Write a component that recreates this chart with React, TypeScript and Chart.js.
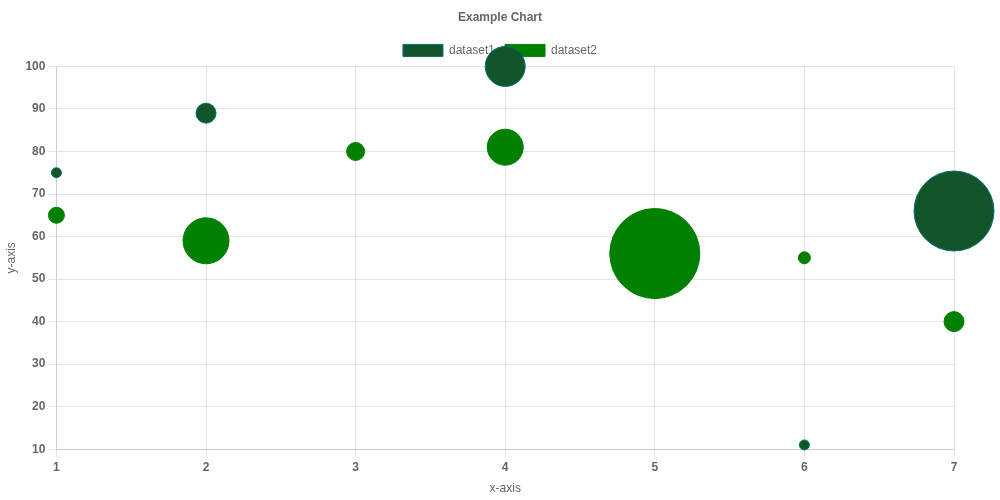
import React, { useEffect, useRef } from "react";
import { Chart, registerables } from "chart.js";

Chart.register(...registerables);

const title = "Example Chart";
const xLabel = "x-axis";
const yLabel = "y-axis";

const ds1X = [1, 2, 4, 6, 7];
const ds1Y = [75, 89, 100, 11, 66];
const ds1R = [5, 10, 20, 5, 40];

const ds2X = [1, 2, 3, 4, 5, 6, 7];
const ds2Y = [65, 59, 80, 81, 56, 55, 40];
const ds2R = [8, 23, 9, 18, 45, 6, 10];

export default function App() {
  const ref = useRef<HTMLCanvasElement | null>(null);
  useEffect(() => {
    if (!ref.current) return;
    Chart.defaults.font.family = "'Liberation Sans', Helvetica, Arial, sans-serif";
    Chart.defaults.color = "#666";
    const chart = new Chart(ref.current, {
      type: "bubble",
      data: {
        datasets: [
          {
            label: "dataset1",
            data: ds1X.map((x, i) => ({ x, y: ds1Y[i], r: ds1R[i] })),
            backgroundColor: "#12552a",
            borderColor: "#007272",
            borderWidth: 1,
            clip: false,
          },
          {
            label: "dataset2",
            data: ds2X.map((x, i) => ({ x, y: ds2Y[i], r: ds2R[i] })),
            backgroundColor: "#008000",
            borderColor: "#008000",
            borderWidth: 1,
            clip: false,
          },
        ],
      },
      options: {
        responsive: true,
        maintainAspectRatio: false,
        animation: false,
        plugins: {
          title: {
            display: true,
            text: title,
            color: "#666",
            font: { size: 12, weight: "bold" },
            padding: { top: 10, bottom: 10 },
          },
          legend: {
            display: true,
            labels: { boxWidth: 40, boxHeight: 12, color: "#666", font: { size: 12 } },
          },
          tooltip: { enabled: false },
        },
        scales: {
          x: {
            type: "linear",
            min: 1,
            max: 7,
            afterFit: (scale: any) => {
              scale.paddingRight = 46;
            },
            ticks: { stepSize: 1, color: "#666", font: { size: 12, weight: "bold" } },
            title: { display: true, text: xLabel, color: "#666", font: { size: 12 } },
            grid: { color: "rgba(0,0,0,0.1)" },
          },
          y: {
            type: "linear",
            min: 10,
            max: 100,
            ticks: { stepSize: 10, color: "#666", font: { size: 12, weight: "bold" } },
            title: { display: true, text: yLabel, color: "#666", font: { size: 12 } },
            grid: { color: "rgba(0,0,0,0.1)" },
          },
        },
      },
    });
    return () => chart.destroy();
  }, []);
  return (
    <div style={{ position: "fixed", left: 0, top: 0, width: 1000, height: 500 }}>
      <canvas ref={ref} />
    </div>
  );
}
